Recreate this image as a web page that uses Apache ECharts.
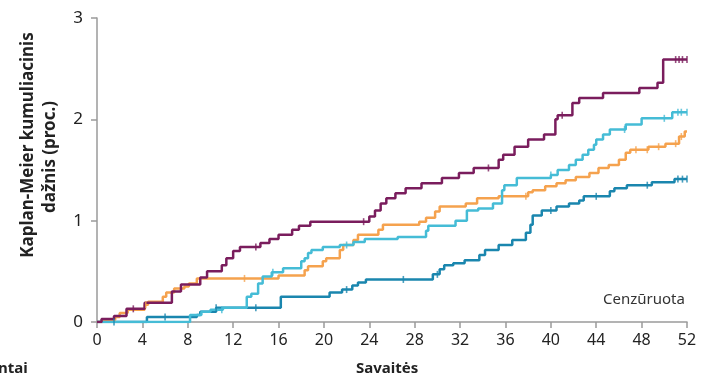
<!DOCTYPE html>
<html><head><meta charset="utf-8">
<script src="https://cdn.jsdelivr.net/npm/echarts@6/dist/echarts.min.js"></script>
<style>html,body{margin:0;padding:0;background:#fff}#c{width:701px;height:380px}</style>
</head><body><div id="c"></div>
<script>
// ---- Data (weeks, cumulative incidence %) ----
var xTicks = [0,4,8,12,16,20,24,28,32,36,40,44,48,52];
var yTicks = [0,1,2,3];

var purpleSteps = [[0,0],[0.4,0.03],[1.5,0.06],[2.6,0.13],[4.2,0.19],[6.6,0.3],[7.4,0.37],[9.1,0.44],[9.7,0.5],[11,0.56],[11.4,0.63],[12,0.7],[12.6,0.74],[14.4,0.78],[15.2,0.82],[16,0.86],[17.2,0.91],[17.8,0.95],[18.8,0.99],[24,1.04],[24.5,1.1],[25,1.17],[25.5,1.22],[26.3,1.27],[27.2,1.32],[28.6,1.37],[30.4,1.42],[31.9,1.47],[33.2,1.52],[35.4,1.6],[35.8,1.65],[36.8,1.73],[38,1.8],[39.4,1.85],[40.4,2.0],[40.6,2.04],[41.9,2.16],[42.5,2.21],[44.6,2.26],[47.8,2.31],[49.4,2.36],[49.9,2.59],[52,2.59]];
var orangeSteps = [[0,0],[0.5,0.02],[1.6,0.05],[2,0.09],[2.7,0.12],[4.2,0.17],[4.5,0.2],[5.8,0.25],[6.1,0.29],[6.8,0.33],[7.7,0.35],[8.1,0.38],[8.8,0.43],[16,0.46],[18.3,0.51],[18.6,0.55],[19.9,0.6],[20.2,0.63],[21.4,0.71],[21.7,0.76],[22.6,0.81],[23,0.86],[24.8,0.91],[25.2,0.96],[28.4,0.99],[29,1.03],[29.8,1.09],[30.2,1.14],[32.5,1.17],[33.5,1.22],[35.4,1.24],[38,1.28],[38.4,1.3],[39.5,1.34],[40.5,1.37],[41.3,1.4],[42.2,1.43],[43.4,1.47],[44.2,1.52],[45.1,1.55],[46,1.6],[46.6,1.67],[47,1.7],[48.6,1.73],[50.1,1.76],[51.3,1.83],[51.8,1.88],[52,1.88]];
var cyanSteps = [[0,0],[8.2,0.07],[9.2,0.1],[10,0.12],[11.1,0.14],[13.2,0.25],[13.6,0.28],[14.2,0.38],[14.6,0.45],[15.4,0.49],[16.4,0.53],[18,0.6],[18.3,0.63],[18.6,0.68],[18.9,0.71],[19.9,0.74],[21.4,0.76],[22.6,0.79],[23.6,0.82],[26.5,0.84],[29,0.9],[29.2,0.95],[31.6,1.0],[32.6,1.1],[33.6,1.12],[34.9,1.17],[35.7,1.3],[35.9,1.35],[37,1.42],[40,1.45],[40.6,1.5],[41.6,1.55],[42.2,1.6],[42.8,1.65],[43.3,1.7],[43.8,1.75],[44,1.8],[44.6,1.85],[45.2,1.9],[46.6,1.95],[48,2.01],[50.7,2.07],[52,2.07]];
var tealSteps = [[0,0],[4.4,0.05],[8.8,0.07],[9.1,0.1],[10.5,0.14],[16.2,0.25],[20.5,0.29],[21.6,0.32],[22.5,0.36],[23,0.39],[23.7,0.42],[29.6,0.47],[30.2,0.52],[30.6,0.56],[31.4,0.58],[32.4,0.61],[33.7,0.66],[34.2,0.71],[35.4,0.76],[36.6,0.81],[37.8,0.88],[38.2,0.96],[38.4,1.05],[39.2,1.1],[40.5,1.14],[41.6,1.17],[42.5,1.2],[42.9,1.24],[45.2,1.29],[45.6,1.32],[46.7,1.35],[48.9,1.38],[50.9,1.41],[52,1.41]];

var purpleCensor = [3.2,14,23.5,34.5,41,51,51.3,51.6,52];
var orangeCensor = [4.3,13,37.8,47.5,48.5,49.5,51,51.5];
var cyanCensor = [11,15.5,22,40,46.5,50,51.2,51.5,52];
var tealCensor = [1.5,6,10.5,14,22,27,30,40,44,48.5,51.2,51.6,52];

var labelCensored = 'Cenzūruota';
var xName = 'Savaitės';
var yName1 = 'Kaplan-Meier kumuliacinis';
var yName2 = 'dažnis (proc.)';
var cutName = 'ntai';

// ---- helpers ----
function stepValue(steps, t){var v=0;for(var i=0;i<steps.length;i++){if(steps[i][0]<=t)v=steps[i][1];}return v;}
function censorPts(steps, times){return times.map(function(t){return [t, stepValue(steps,t)];});}

var colors = {purple:'#7a1d5d', orange:'#f5a24e', cyan:'#45bcd6', teal:'#1a86ae'};
var F = '"Noto Sans", "Open Sans", sans-serif';

function lineSeries(data,color,z){return {type:'line',step:'end',data:data,showSymbol:false,symbol:'none',lineStyle:{color:color,width:2.5},z:z,animation:false};}
function censorSeries(data,color,z){return {type:'scatter',data:data,symbol:'rect',symbolSize:[1.6,7],itemStyle:{color:color},z:z,animation:false,silent:true};}

var chart = echarts.init(document.getElementById('c'));
chart.setOption({
  animation:false,
  backgroundColor:'#fff',
  grid:{left:97,right:14,top:18,bottom:58,containLabel:false},
  xAxis:{type:'value',min:0,max:52,interval:4,
    axisLine:{show:true,lineStyle:{color:'#9a9a9a',width:1.5}},
    axisTick:{show:true,length:6,lineStyle:{color:'#9a9a9a',width:1.5}},
    axisLabel:{color:'#222',fontSize:16,fontFamily:F,margin:10},
    splitLine:{show:false}},
  yAxis:{type:'value',min:0,max:3,interval:1,
    axisLine:{show:true,lineStyle:{color:'#9a9a9a',width:1.5}},
    axisTick:{show:true,length:6,lineStyle:{color:'#9a9a9a',width:1.5}},
    axisLabel:{color:'#222',fontSize:17,fontFamily:F,margin:14},
    splitLine:{show:false}},
  graphic:[
    {type:'text',left:603,top:292,style:{text:labelCensored,fontSize:15,fontFamily:F,fill:'#333'}},
    {type:'text',left:356,top:361,style:{text:xName,fontSize:15,fontWeight:'bold',fontFamily:F,fill:'#222'}},
    {type:'text',left:-2,top:361,style:{text:cutName,fontSize:15,fontWeight:'bold',fontFamily:F,fill:'#222'}},
    {type:'text',x:28,y:145,rotation:Math.PI/2,style:{text:yName1,fontSize:17,fontWeight:'bold',fontFamily:F,fill:'#222',align:'center',verticalAlign:'middle'}},
    {type:'text',x:50,y:157,rotation:Math.PI/2,style:{text:yName2,fontSize:17,fontWeight:'bold',fontFamily:F,fill:'#222',align:'center',verticalAlign:'middle'}}
  ],
  series:[
    lineSeries(tealSteps,colors.teal,3),
    lineSeries(orangeSteps,colors.orange,4),
    lineSeries(cyanSteps,colors.cyan,5),
    lineSeries(purpleSteps,colors.purple,6),
    censorSeries(censorPts(tealSteps,tealCensor),colors.teal,7),
    censorSeries(censorPts(orangeSteps,orangeCensor),colors.orange,7),
    censorSeries(censorPts(cyanSteps,cyanCensor),colors.cyan,7),
    censorSeries(censorPts(purpleSteps,purpleCensor),colors.purple,7)
  ]
});
</script></body></html>
